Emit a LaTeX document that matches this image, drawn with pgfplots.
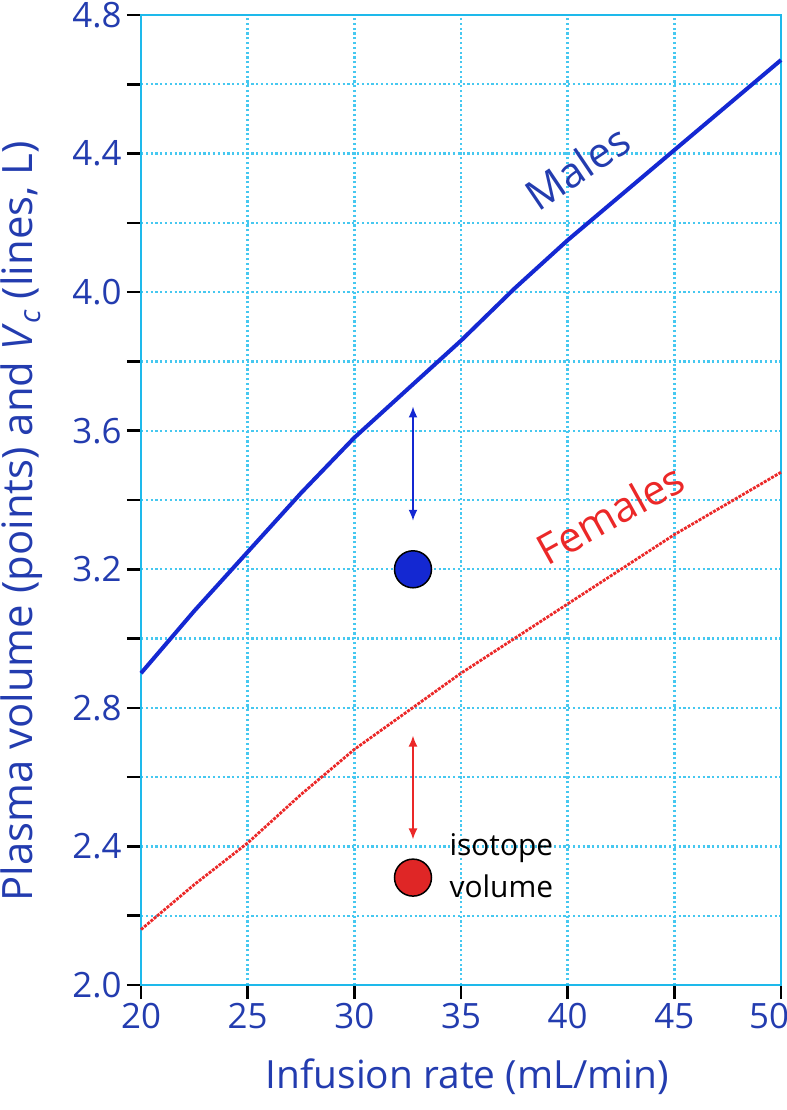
\documentclass[border=0pt]{standalone}
\usepackage{fontspec}
\setmainfont{Open Sans}
\usepackage{pgfplots}
\pgfplotsset{compat=1.18}
\usetikzlibrary{calc,arrows.meta}

\definecolor{axcyan}{RGB}{30,185,235}
\definecolor{gridcyan}{RGB}{70,200,240}
\definecolor{lblblue}{RGB}{35,60,175}
\definecolor{maleblue}{RGB}{20,40,210}
\definecolor{femred}{RGB}{235,40,40}

\begin{document}
\begin{tikzpicture}
\begin{axis}[
    scale only axis,
    width=640bp, height=970bp,
    xmin=20, xmax=50, ymin=2.0, ymax=4.8,
    xtick={20,25,...,50},
    ytick={2.0,2.4,...,4.8},
    minor y tick num=1,
    xtick pos=bottom, ytick pos=left,
    grid=both,
    major grid style={gridcyan, line width=2.4bp, dash pattern=on 2.2bp off 2.6bp},
    minor grid style={gridcyan, line width=2.4bp, dash pattern=on 2.2bp off 2.6bp},
    axis line style={axcyan, line width=2.5bp},
    tick style={black, line width=2.5bp},
    tick align=outside,
    major tick length=14bp, minor tick length=14bp,
    /pgf/number format/assume math mode=true,
    xticklabel={\ifnum\ticknum=6 \hspace*{-24bp}\fi\pgfmathprintnumber{\tick}},
    yticklabel={\pgfmathprintnumber[fixed,fixed zerofill,precision=1]{\tick}},
    ticklabel style={font=\fontsize{35}{38}\selectfont, text=lblblue},
    xticklabel style={yshift=-1bp},
    yticklabel style={xshift=-2bp},
    xlabel={Infusion rate (mL/min)},
    ylabel={Plasma volume (points) and \textit{V}\textsubscript{\textit{c}} (lines, L)},
    label style={font=\fontsize{39}{42}\selectfont, text=lblblue},
    xlabel style={at={(axis description cs:0.51,-0.095)}, anchor=center},
    ylabel style={at={(axis description cs:-0.186,0.478)}, anchor=center, font=\fontsize{42}{46}\selectfont},
    clip=false,
]
% males
\addplot[maleblue, line width=4bp] coordinates {
 (20,2.90) (22.5,3.08) (25,3.25) (27.5,3.42) (30,3.58) (32.5,3.72) (35,3.86)
 (37.5,4.01) (40,4.15) (42.5,4.28) (45,4.41) (47.5,4.54) (50,4.67)};
% females
\addplot[femred, line width=2.8bp, dash pattern=on 3bp off 1.2bp] coordinates {
 (20,2.16) (22.5,2.29) (25,2.41) (27.5,2.55) (30,2.68) (32.5,2.79) (35,2.90)
 (37.5,3.00) (40,3.10) (42.5,3.20) (45,3.30) (47.5,3.39) (50,3.48)};
% ranges
\addplot[maleblue, line width=1.8bp, {Latex[length=11bp,width=9bp]}-{Latex[length=11bp,width=9bp]}] coordinates {(32.75,3.34) (32.75,3.67)};
\addplot[femred, line width=1.8bp, {Latex[length=11bp,width=9bp]}-{Latex[length=11bp,width=9bp]}] coordinates {(32.75,2.42) (32.75,2.72)};
% isotope volume points
\addplot[only marks, mark=*, mark size=18.5bp, mark options={fill=maleblue, draw=black, line width=1.5bp}] coordinates {(32.75,3.20)};
\addplot[only marks, mark=*, mark size=18.5bp, mark options={fill=femred!95!black, draw=black, line width=1.5bp}] coordinates {(32.75,2.31)};
\node[rotate=34, text=lblblue, font=\fontsize{42}{44}\selectfont] at (axis cs:40.45,4.36) {Males};
\node[rotate=29, text=femred, font=\fontsize{42}{44}\selectfont] at (axis cs:42.0,3.36) {Females};
\node[anchor=west, align=left, font=\fontsize{30}{42}\selectfont] at (axis cs:34.3,2.345) {isotope\\volume};
\coordinate (ll) at (rel axis cs:0,0);
\coordinate (ur) at (rel axis cs:1,1);
\end{axis}
\pgfresetboundingbox
\path[use as bounding box] ($(ll)+(-141bp,-125bp)$) rectangle ($(ur)+(6bp,15bp)$);
\end{tikzpicture}
\end{document}
